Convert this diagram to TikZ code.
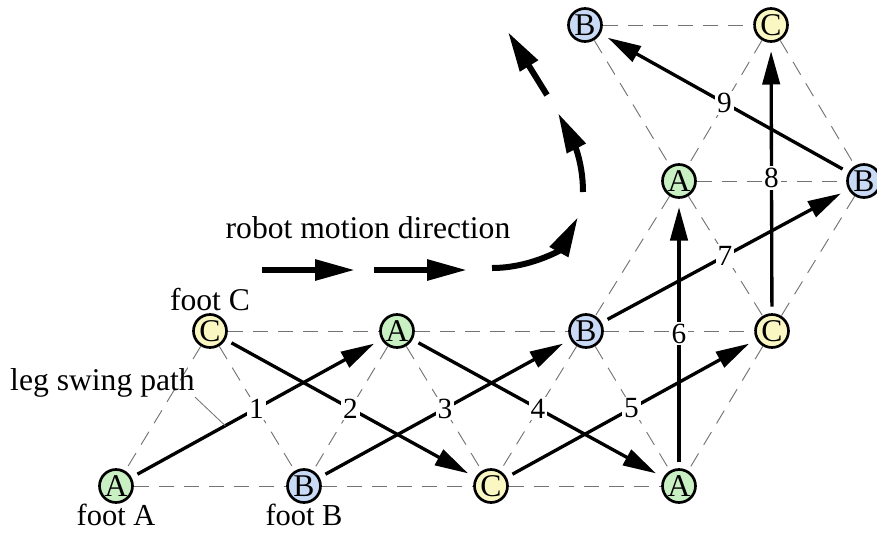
\documentclass[tikz,border=0pt]{standalone}
\usepackage{fontspec}
\setmainfont{Liberation Serif}
\usetikzlibrary{arrows.meta,positioning}
\definecolor{footgreen}{RGB}{200,240,195}
\definecolor{footblue}{RGB}{200,218,245}
\definecolor{footyellow}{RGB}{250,247,195}
\begin{document}
\begin{tikzpicture}[x=0.3mm,y=-0.3mm,font=\fontsize{27}{32}\selectfont]
		\tikzstyle{foot}=[draw,shape=circle,line width=0.8mm,minimum size=9.9mm,inner sep=0pt]
		\tikzstyle{fa}=[foot,fill=footgreen]
		\tikzstyle{fb}=[foot,fill=footblue]
		\tikzstyle{fc}=[foot,fill=footyellow]
		\tikzstyle{grid}=[draw=black!55,line width=0.28mm,dash pattern=on 4.5mm off 3mm]
		\tikzstyle{swing}=[line width=1mm,-{Triangle[length=10mm,width=5.2mm]},shorten <=2mm,shorten >=2.5mm]
		\tikzstyle{stepnum}=[fill=white,inner sep=0.6mm,font=\fontsize{25}{30}\selectfont]
		\tikzstyle{motion}=[line width=1.8mm,-{Triangle[length=12mm,width=6mm]}]
		\tikzstyle{annot}=[inner sep=0pt]

		\useasboundingbox (0,0) rectangle (877,533);

		\node[fa](a0) at (116,486){A};
		\node[fb](b0) at (304,486){B};
		\node[fc](c1) at (491,486){C};
		\node[fa](a2) at (679,486){A};

		\node[fc](c0) at (210,331){C};
		\node[fa](a1) at (397,331){A};
		\node[fb](b1) at (586,331){B};
		\node[fc](c2) at (772,331){C};

		\node[fa](a3) at (679,181){A};
		\node[fb](b2) at (864,181){B};

		\node[fb](b3) at (585,25){B};
		\node[fc](c3) at (771,25){C};

		\foreach \u/\v in {a0/b0,b0/c1,c1/a2,c0/a1,a1/b1,b1/c2,a3/b2,b3/c3,
		                   c0/a0,c0/b0,a1/b0,a1/c1,b1/c1,b1/a2,c2/a2,
		                   a3/b1,a3/c2,b2/c2,b3/a3,c3/a3,c3/b2}
		{
		  \draw[grid] (\u) -- (\v);
		}

		\foreach \u/\v/\n in {a0/a1/1,c0/c1/2,b0/b1/3,a1/a2/4,c1/c2/5,
		                      a2/a3/6,b1/b2/7,c2/c3/8,b2/b3/9}
		{
		  \draw[swing] (\u) -- node[stepnum]{\n} (\v);
		}
		\path (a0) -- coordinate[pos=0.375](swing) (a1);

		\node[annot, below=0.1mm of a0, font=\fontsize{26}{30}\selectfont](foota){foot A};
		\node[annot, below=0.1mm of b0, font=\fontsize{26}{30}\selectfont](footb){foot B};
		\node[annot, above=0.5mm of c0](footc){foot C};
		\node[annot, anchor=base west](swinglbl) at (10,390){leg swing path};
		\node[annot, anchor=base](motionlbl) at (368,238){robot motion direction};
		\draw[black!55,line width=0.25mm] (swinglbl.south east) -- (swing);

		% robot motion direction
		\draw[motion] (262,270) -- (355,270);
		\draw[motion] (374,270) -- (467,270);
		\draw[motion] (492,268) .. controls (530,268) and (560,250) .. (578,217);
		\draw[motion] (583,192) .. controls (583,160) and (572,140) .. (558,113);
		\draw[motion] (547,95) -- (508,32);

\end{tikzpicture}
\end{document}
